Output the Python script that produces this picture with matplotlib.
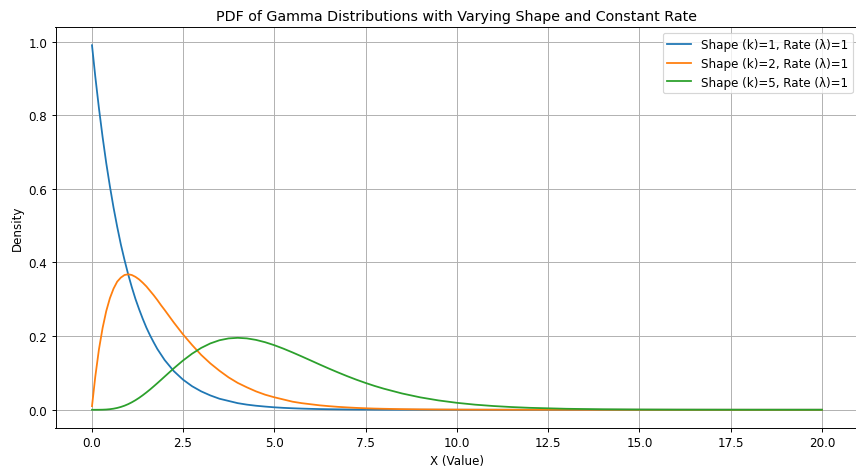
import matplotlib
matplotlib.use("Agg")
import matplotlib.pyplot as plt

x_vals = [0.01, 0.1, 0.2, 0.3, 0.4, 0.5, 0.6, 0.7, 0.8, 0.9, 1.0,
          1.1, 1.2, 1.3, 1.4, 1.5, 1.6, 1.7, 1.8, 1.9, 2.0,
          2.25, 2.5, 2.75, 3.0, 3.25, 3.5, 3.75, 4.0, 4.25, 4.5, 4.75, 5.0,
          5.25, 5.5, 5.75, 6.0, 6.25, 6.5, 6.75, 7.0, 7.25, 7.5, 7.75, 8.0,
          8.5, 9.0, 9.5, 10.0, 10.5, 11.0, 11.5, 12.0,
          13, 14, 15, 16, 17, 18, 19, 20]

# Shape k=1
pdf_k1 = [0.990, 0.905, 0.819, 0.741, 0.670, 0.607, 0.549, 0.497, 0.449, 0.407, 0.368,
          0.333, 0.301, 0.273, 0.247, 0.223, 0.202, 0.183, 0.165, 0.150, 0.135,
          0.105, 0.082, 0.064, 0.050, 0.039, 0.030, 0.024, 0.018, 0.014, 0.011, 0.0087, 0.0067,
          0.0052, 0.0041, 0.0032, 0.0025, 0.0019, 0.0015, 0.0012, 0.0009, 0.0007, 0.0006, 0.0004, 0.0003,
          0.0002, 0.0001, 0.0001, 0.00005, 0.00003, 0.00002, 0.00001, 0.00001,
          0.0, 0.0, 0.0, 0.0, 0.0, 0.0, 0.0, 0.0]

# Shape k=2
pdf_k2 = [0.0099, 0.090, 0.164, 0.222, 0.268, 0.303, 0.329, 0.348, 0.359, 0.366, 0.368,
          0.366, 0.361, 0.354, 0.345, 0.335, 0.323, 0.311, 0.298, 0.284, 0.271,
          0.237, 0.205, 0.176, 0.149, 0.126, 0.106, 0.088, 0.073, 0.061, 0.050, 0.041, 0.034,
          0.028, 0.022, 0.018, 0.015, 0.012, 0.0098, 0.0079, 0.0064, 0.0051, 0.0041, 0.0033, 0.0027,
          0.0017, 0.0011, 0.0007, 0.00045, 0.00029, 0.00018, 0.00012, 0.00007,
          0.00003, 0.00001, 0.0, 0.0, 0.0, 0.0, 0.0, 0.0]

# Shape k=5
pdf_k5 = [0.0, 0.0, 0.00006, 0.00025, 0.00071, 0.0016, 0.0030, 0.0050, 0.0077, 0.0111, 0.0153,
          0.0203, 0.0260, 0.0324, 0.0395, 0.0471, 0.0551, 0.0636, 0.0723, 0.0812, 0.0902,
          0.1126, 0.1336, 0.1523, 0.1680, 0.1802, 0.1888, 0.1938, 0.1954, 0.1939, 0.1898, 0.1835, 0.1755,
          0.1661, 0.1558, 0.1450, 0.1339, 0.1227, 0.1118, 0.1013, 0.0912, 0.0817, 0.0729, 0.0647, 0.0573,
          0.0443, 0.0337, 0.0254, 0.0189, 0.0139, 0.0102, 0.0074, 0.0053,
          0.0027, 0.0013, 0.00065, 0.0003, 0.00015, 0.00006, 0.00003, 0.00001]

labels = ["Shape (k)=1, Rate (\u03bb)=1",
          "Shape (k)=2, Rate (\u03bb)=1",
          "Shape (k)=5, Rate (\u03bb)=1"]


def main():
    # reference looks like a 10-inch figure shrunk to 856 px
    fig = plt.figure(figsize=(10, 5.467), dpi=85.6)
    ax = fig.add_axes([55.5 / 856, 1 - 429 / 468, 803 / 856, 401 / 468])
    for y, lab in zip([pdf_k1, pdf_k2, pdf_k5], labels):
        ax.plot(x_vals, y, label=lab)

    ax.set_title("PDF of Gamma Distributions with Varying Shape and Constant Rate")
    ax.set_xlabel("X (Value)")
    ax.set_ylabel("Density")
    ax.legend(loc="upper right")
    ax.grid(True)
    fig.savefig("out.png", dpi=85.6)
    plt.close(fig)


if __name__ == "__main__":
    main()
